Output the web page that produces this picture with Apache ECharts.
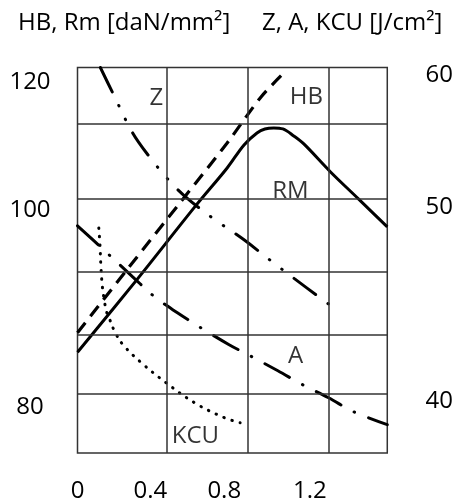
<!DOCTYPE html>
<html><head><meta charset="utf-8">
<script src="https://cdn.jsdelivr.net/npm/echarts@6/dist/echarts.min.js"></script>
<style>html,body{margin:0;padding:0;background:#fff}#c{width:456px;height:503px}</style>
</head><body><div id="c"></div>
<script>
// ---- tick labels (text) and where they sit on the axes ----
const xTickLabels = ['0', '0.4', '0.8', '1.2'];
const xTickAt = [0, 0.376, 0.758, 1.2];
const leftTickLabels = ['120', '100', '80'];
const leftTickAt = [120, 104.25, 80];
const rightTickLabels = ['60', '50', '40'];
const rightTickAt = [60, 51.9, 40];
// ---- grid lines (x values, left-axis values) ----
const xGridAt = [0.461, 0.881, 1.305];
const yGridAt = [114.77, 105.56, 96.67, 88.90, 81.62];

// ---- series (left axis: HB, RM) ----
const hbX = [0, 0.259, 0.542, 0.773, 0.948, 1.081];
const hbY = [89.15, 97.0, 105.5, 112.47, 118.12, 121.43];
const rmX = [0, 0.306, 0.614, 0.773, 0.860, 0.927, 0.968, 1.014, 1.061, 1.117, 1.169, 1.307, 1.451, 1.6];
const rmY = [86.75, 95.65, 104.86, 109.4, 112.23, 113.7, 114.19, 114.32, 114.19, 113.33, 112.35, 108.91, 105.6, 102.16];
// ---- series (right axis: Z, A, KCU) ----
const zX = [0.118, 0.182, 0.285, 0.372, 0.470, 0.552, 0.696, 0.860, 0.999, 1.122, 1.246, 1.302];
const zY = [60.46, 58.90, 56.44, 54.97, 53.56, 52.58, 51.23, 49.88, 48.59, 47.48, 46.38, 45.89];
const aX = [0, 0.124, 0.285, 0.398, 0.516, 0.645, 0.783, 0.901, 1.035, 1.163, 1.297, 1.425, 1.6];
const aY = [50.74, 49.39, 47.61, 46.38, 45.40, 44.42, 43.44, 42.70, 41.84, 40.98, 40.18, 39.33, 38.53];
const kcuX = [0.110, 0.116, 0.121, 0.129, 0.138, 0.150, 0.167, 0.193, 0.235, 0.330, 0.458, 0.604, 0.758, 0.840];
const kcuY = [50.61, 49.57, 48.22, 46.93, 46.20, 45.46, 44.97, 44.23, 43.44, 42.33, 41.10, 39.88, 38.96, 38.65];
// ---- curve names written inside the plot ----
const curveLabels = ['Z', 'HB', 'RM', 'A', 'KCU'];
const curveLabelX = [0.407, 1.182, 1.100, 1.126, 0.609];
const curveLabelY = [118.0, 118.04, 106.5, 86.32, 76.5];

const zip = (xs, ys) => xs.map((x, i) => [x, ys[i]]);
const FONT = '"Open Sans"';
const TXT = '#000';
const pick = (at, labels) => v => { const i = at.findIndex(t => Math.abs(t - v) < 1e-6); return i < 0 ? '' : labels[i]; };

const chart = echarts.init(document.getElementById('c'), null, {renderer: 'canvas'});
chart.setOption({
  animation: false,
  backgroundColor: '#fff',
  title: [
    {text: 'HB, Rm [daN/mm²]', left: 18, top: 11, padding: 0,
     textStyle: {fontFamily: FONT, fontSize: 24, fontWeight: 'normal', color: TXT}},
    {text: 'Z, A, KCU [J/cm²]', left: 262, top: 11, padding: 0,
     textStyle: {fontFamily: FONT, fontSize: 24, fontWeight: 'normal', color: TXT}}
  ],
  grid: {left: 77.5, right: 67, top: 67.5, bottom: 49.7, show: true,
         borderColor: '#333', borderWidth: 1.5, backgroundColor: 'transparent'},
  xAxis: {
    type: 'value', min: 0, max: 1.6,
    axisLine: {show: false}, axisTick: {show: false}, splitLine: {show: false},
    axisLabel: {customValues: xTickAt, formatter: pick(xTickAt, xTickLabels),
                fontFamily: FONT, fontSize: 24, color: TXT, margin: 38, verticalAlign: 'middle'}
  },
  yAxis: [
    {type: 'value', min: 74.38, max: 121.74, position: 'left',
     axisLine: {show: false}, axisTick: {show: false}, splitLine: {show: false},
     axisLabel: {customValues: leftTickAt, formatter: pick(leftTickAt, leftTickLabels),
                 fontFamily: FONT, fontSize: 24, color: TXT, margin: 47.5, align: 'center', verticalAlign: 'middle'}},
    {type: 'value', min: 36.79, max: 60.46, position: 'right',
     axisLine: {show: false}, axisTick: {show: false}, splitLine: {show: false},
     axisLabel: {customValues: rightTickAt, formatter: pick(rightTickAt, rightTickLabels),
                 fontFamily: FONT, fontSize: 24, color: TXT, margin: 52, align: 'center', verticalAlign: 'middle'}}
  ],
  series: [
    {name: 'RM', type: 'line', yAxisIndex: 0, data: zip(rmX, rmY), smooth: 0.35,
     showSymbol: false, lineStyle: {color: '#000', width: 3}, z: 3,
     markLine: {silent: true, symbol: 'none', label: {show: false}, animation: false,
       lineStyle: {color: '#333', width: 1.5, type: 'solid'},
       data: xGridAt.map(v => ({xAxis: v})).concat(yGridAt.map(v => ({yAxis: v})))}},
    {name: 'HB', type: 'line', yAxisIndex: 0, data: zip(hbX, hbY), smooth: 0.3,
     showSymbol: false, lineStyle: {color: '#000', width: 3.2, type: [13, 8]}, z: 3},
    {name: 'Z', type: 'line', yAxisIndex: 1, data: zip(zX, zY), smooth: 0.35,
     showSymbol: false, lineStyle: {color: '#000', width: 3, type: [27, 15, 0.5, 15, 0.5, 15], cap: 'round'}, z: 3},
    {name: 'A', type: 'line', yAxisIndex: 1, data: zip(aX, aY), smooth: 0.35,
     showSymbol: false, lineStyle: {color: '#000', width: 3, type: [28, 15, 0.5, 15], cap: 'round'}, z: 3},
    {name: 'KCU', type: 'line', yAxisIndex: 1, data: zip(kcuX, kcuY), smooth: 0.4,
     showSymbol: false, lineStyle: {color: '#000', width: 3, type: [0.5, 8], cap: 'round'}, z: 3},
    {name: 'labels', type: 'scatter', yAxisIndex: 0, symbolSize: 0, silent: true, z: 4,
     data: curveLabels.map((n, i) => ({name: n, value: [curveLabelX[i], curveLabelY[i]]})),
     label: {show: true, position: 'inside', formatter: p => p.name,
             fontFamily: FONT, fontSize: 24, color: TXT}}
  ]
});
</script>
</body></html>
